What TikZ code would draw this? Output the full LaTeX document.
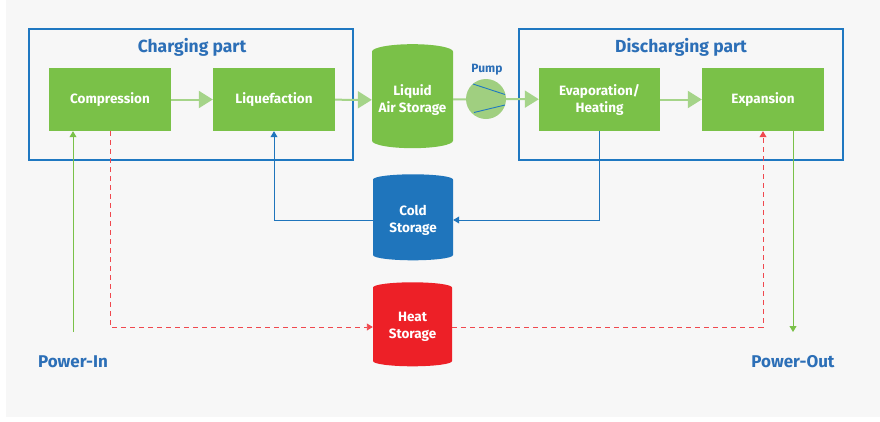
\documentclass[tikz,border=0pt]{standalone}
\usepackage{fontspec}
\setmainfont{Fira Sans}
\usetikzlibrary{arrows.meta,shapes.geometric,positioning}
\definecolor{verde}{RGB}{122,193,72}
\definecolor{verdeclaro}{RGB}{165,212,137}
\definecolor{verdebomba}{RGB}{160,207,128}
\definecolor{azul}{RGB}{31,120,193}
\definecolor{azultxt}{RGB}{44,111,183}
\definecolor{azulfrio}{RGB}{31,117,188}
\definecolor{rojo}{RGB}{237,32,39}
\definecolor{rojoclaro}{RGB}{240,72,78}
\definecolor{fondo}{RGB}{247,247,247}
\begin{document}
\begin{tikzpicture}[x=1pt, y=-1pt,
    caja/.style={fill=verde, text=white, font=\bfseries\fontsize{13.5}{17}\selectfont, minimum width=122pt, minimum height=63pt, align=center, inner sep=0pt},
    marco/.style={draw=azul, line width=1.3pt},
    titulo/.style={text=azultxt, font=\bfseries\fontsize{17.5}{20}\selectfont},
    deposito/.style={cylinder, shape border rotate=90, aspect=0.22, draw=none, text=white, font=\bfseries\fontsize{13.5}{17}\selectfont, align=center, inner sep=0pt},
    flujo/.style={verdeclaro, line width=2pt, -{Triangle[length=14pt,width=17pt]}},
    lineafria/.style={azulfrio, line width=0.9pt, -{Triangle[length=6pt,width=7pt]}},
    lineacalor/.style={rojoclaro, line width=0.9pt, dash pattern=on 5pt off 4pt, -{Triangle[length=6pt,width=7pt]}},
    lineapotencia/.style={verde, line width=0.9pt, -{Triangle[length=6pt,width=7pt]}},
    potencia/.style={text=azultxt, font=\bfseries\fontsize{17}{20}\selectfont}]
    % Fondo
    \fill[white] (0,0) rectangle (880,421);
    \fill[fondo] (6,0) rectangle (880,417);

    % Marcos de las dos partes
    \draw[marco] (29,29) rectangle (353,160);
    \draw[marco] (519,29) rectangle (843,160);
    \node[titulo] (tcarga) at (192,47) {Charging part};
    \node[titulo] (tdescarga) at (681,47) {Discharging part};

    % Procesos
    \node[caja] (comp) at (110,99.5) {Compression};
    \node[caja] (licu) at (274,99.5) {Liquefaction};
    \node[caja, minimum width=121pt] (evap) at (599.5,99.5) {Evaporation/\\Heating};
    \node[caja] (expa) at (763,99.5) {Expansion};

    % Depositos
    \node[deposito, fill=verde, minimum width=81pt, minimum height=104pt] (liquido) at (412.5,100) {Liquid\\Air Storage};
    \node[deposito, fill=azulfrio, minimum width=80pt, minimum height=86pt] (frio) at (413,220) {Cold\\Storage};
    \node[deposito, fill=rojo, minimum width=79pt, minimum height=84pt] (calor) at (412.5,327) {Heat\\Storage};

    % Bomba
    \node[circle, fill=verdebomba, minimum size=40pt, inner sep=0pt] (bomba) at (486,99) {};
    \draw[azul, line width=0.9pt] (473,84) -- (505,94.5);
    \draw[azul, line width=0.9pt] (474,112.5) -- (505,105);
    \node[text=azultxt, font=\bfseries\fontsize{12}{14}\selectfont] (tbomba) at (487,70) {Pump};

    % Flujo principal
    \draw[flujo] (comp) -- (licu);
    \draw[flujo] (licu) -- (liquido);
    \draw[verdeclaro, line width=2pt] (liquido) -- (bomba);
    \draw[flujo] (bomba) -- (evap);
    \draw[flujo] (evap) -- (expa);

    % Circuito de frio
    \draw[lineafria] (evap.south) |- (frio);
    \draw[lineafria] (frio) -| (licu.south);

    % Circuito de calor
    \draw[lineacalor] (comp.south) |- (calor);
    \draw[lineacalor] (calor) -| (expa.south);

    % Potencia
    \node[potencia] (pin) at (73,362) {Power-In};
    \node[potencia] (pout) at (793,362) {Power-Out};
    \coordinate (entrada) at (73,332);
    \coordinate (salida) at (793,332);
    \draw[lineapotencia] (entrada) -- (entrada |- comp.south);
    \draw[lineapotencia] (salida |- expa.south) -- (salida);
\end{tikzpicture}
\end{document}
